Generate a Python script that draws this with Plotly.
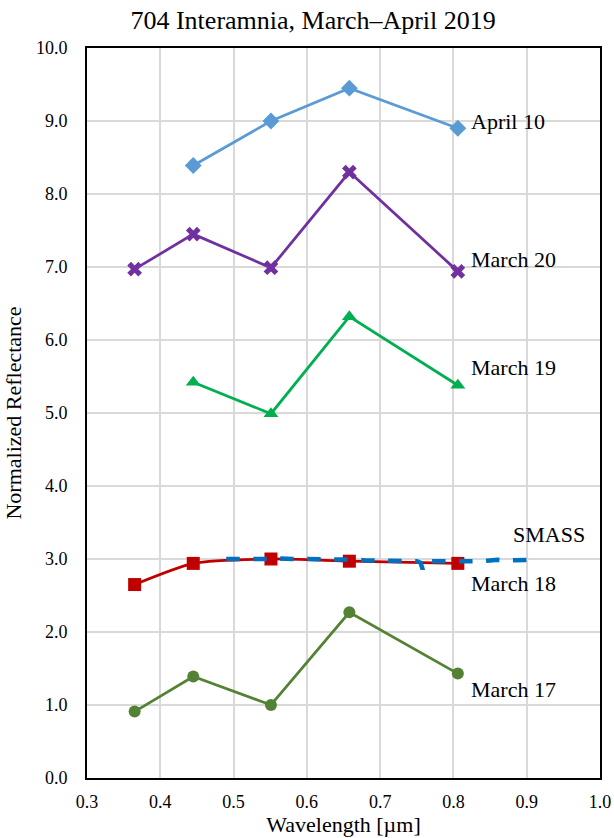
import plotly.graph_objects as go

wl = [0.365, 0.445, 0.551, 0.658, 0.806]
apr10 = [None, 8.39, 9.00, 9.45, 8.90]
mar20 = [6.97, 7.45, 6.99, 8.30, 6.94]
mar19 = [None, 5.42, 4.99, 6.32, 5.38]
mar18 = [2.65, 2.94, 3.00, 2.97, 2.94]
mar17 = [0.91, 1.39, 1.00, 2.27, 1.43]

smass_wl = [0.49, 0.50, 0.51, 0.52, 0.53, 0.54, 0.55, 0.56, 0.57, 0.58, 0.59,
            0.60, 0.61, 0.62, 0.63, 0.64, 0.65, 0.66, 0.67, 0.68, 0.69, 0.70,
            0.71, 0.72, 0.73, 0.74, 0.75, 0.755, 0.758, 0.761, 0.765, 0.77,
            0.78, 0.79, 0.80, 0.81, 0.82, 0.83, 0.84, 0.85, 0.86, 0.87, 0.88,
            0.89, 0.90, 0.91, 0.915]
smass = [3.00, 3.00, 2.99, 3.00, 3.00, 2.99, 3.00, 3.01, 3.00, 3.00, 3.00,
         3.00, 3.00, 3.00, 2.99, 2.99, 2.99, 2.99, 2.99, 2.98, 2.98, 2.98,
         2.97, 2.97, 2.97, 2.97, 2.97, 2.95, 2.86, 2.95, 2.97, 2.97,
         2.97, 2.96, 2.96, 2.96, 2.96, 2.97, 2.97, 2.98, 2.99, 2.98, 2.98,
         2.99, 2.99, 2.99, 3.00]

labels = ["April 10", "March 20", "March 19", "SMASS", "March 18", "March 17"]
label_x = [0.821, 0.821, 0.821, 0.879, 0.821, 0.821]
label_y = [9.0, 7.1, 5.63, 3.34, 2.67, 1.21]

x_ticks = [0.3, 0.4, 0.5, 0.6, 0.7, 0.8, 0.9, 1.0]
y_ticks = [0, 1, 2, 3, 4, 5, 6, 7, 8, 9, 10]

SERIF = "Times New Roman, Liberation Serif, serif"

fig = go.Figure()

series = [
    (apr10, "#5B9BD5", "diamond", 13, "linear"),
    (mar20, "#7030A0", "x", 13, "linear"),
    (mar19, "#00B050", "triangle-up", 13, "linear"),
    (mar17, "#548235", "circle", 12, "linear"),
    (mar18, "#C00000", "square", 13, "spline"),
]
for ys, col, sym, sz, shape in series:
    fig.add_trace(go.Scatter(
        x=wl, y=ys, mode="lines+markers", connectgaps=False,
        line=dict(color=col, width=2.75, shape=shape, smoothing=0.6),
        marker=dict(color=col, symbol=sym, size=sz),
        showlegend=False))

fig.add_trace(go.Scatter(
    x=smass_wl, y=smass, mode="lines",
    line=dict(color="#0070C0", width=4.5, dash="dash"),
    showlegend=False))

for t, xx, yy in zip(labels, label_x, label_y):
    fig.add_annotation(x=xx, y=yy, text=t, showarrow=False,
                       xanchor="left", yanchor="middle",
                       font=dict(family=SERIF, size=22, color="#000"))

fig.update_layout(
    width=614, height=838,
    margin=dict(l=87, r=14, t=48, b=60),
    paper_bgcolor="white", plot_bgcolor="white",
    font=dict(family=SERIF, size=18, color="#000"),
    title=dict(text="704 Interamnia, March\u2013April 2019", x=0.51, xanchor="center",
               y=0.976, yanchor="middle",
               font=dict(family=SERIF, size=26, color="#000")),
)
fig.update_xaxes(range=[0.3, 1.0], tickvals=x_ticks, tickformat=".1f",
                 showgrid=True, gridcolor="#D9D9D9", gridwidth=2,
                 showline=True, linecolor="black", linewidth=2, mirror=True,
                 zeroline=False, ticks="", ticklabelstandoff=6, automargin=False,
                 title=dict(text="Wavelength [\u00b5m]", standoff=2,
                            font=dict(family=SERIF, size=22)),
                 tickfont=dict(family=SERIF, size=18))
fig.update_yaxes(range=[0, 10], tickvals=y_ticks, tickformat=".1f",
                 showgrid=True, gridcolor="#D9D9D9", gridwidth=2,
                 showline=True, linecolor="black", linewidth=2, mirror=True,
                 zeroline=False, ticks="", ticklabelstandoff=14, automargin=False,
                 title=dict(text="Normalized Reflectance", standoff=8,
                            font=dict(family=SERIF, size=22)),
                 tickfont=dict(family=SERIF, size=18))

fig.write_html("out.html")
